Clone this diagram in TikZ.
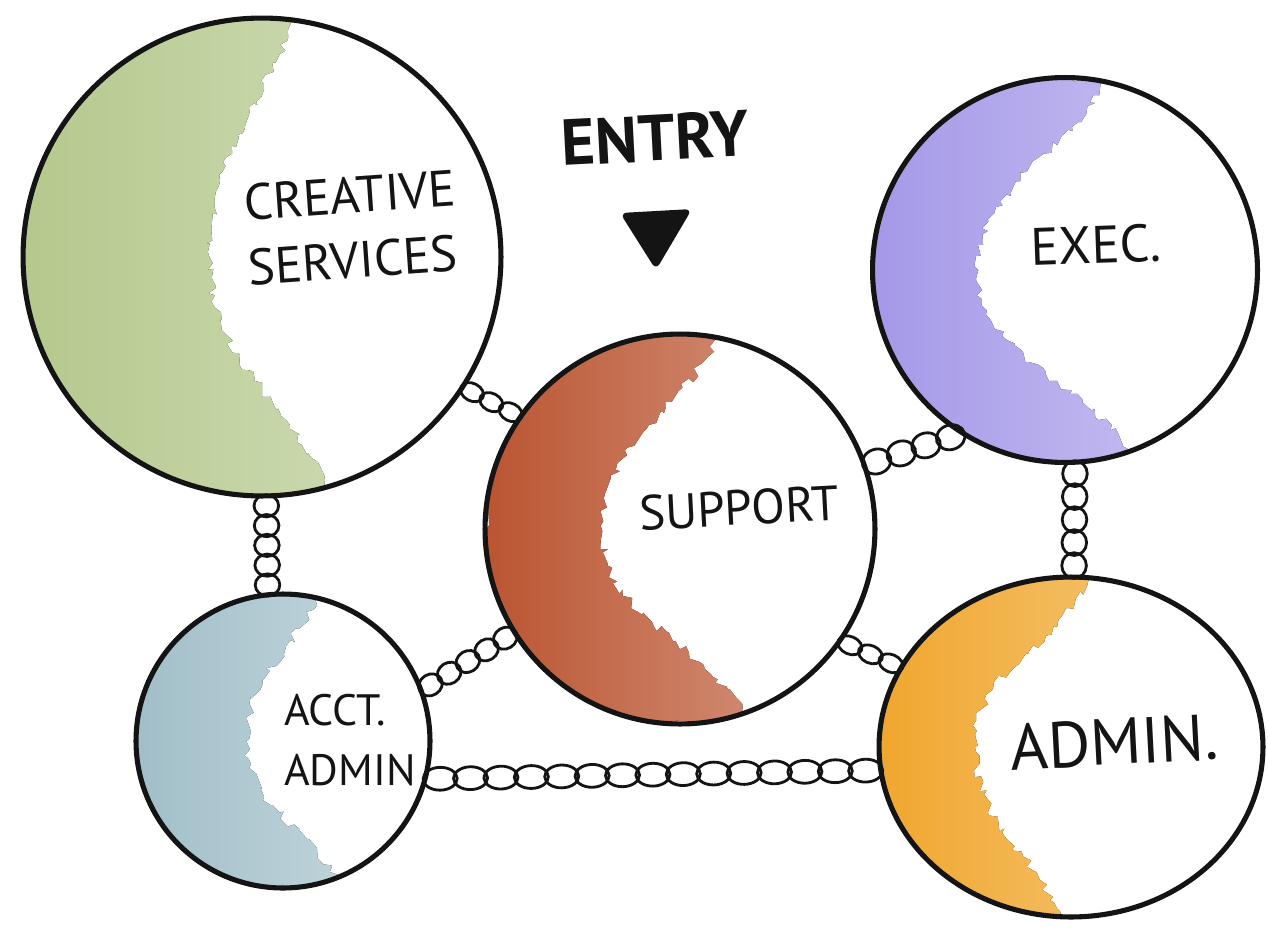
\documentclass[tikz,border=0pt]{standalone}
\usepackage{fontspec}
\newfontfamily\handfont{PT Sans}
\usetikzlibrary{shapes.geometric,decorations.pathmorphing,calc}

\definecolor{creGreen}{RGB}{180,200,140}
\definecolor{exeLilac}{RGB}{164,152,232}
\definecolor{supRust}{RGB}{186,84,48}
\definecolor{accBlue}{RGB}{160,190,200}
\definecolor{admOrange}{RGB}{240,166,45}
\definecolor{inkBlack}{RGB}{20,20,20}

%% a chain of #3 links from #1 to #2, links #4 high
\newcommand\drawChain[4]{%
  \foreach \k in {1,...,#3}{
    \draw[linkLine] let \p1=(#1), \p2=(#2), \n1={atan2(\y2-\y1,\x2-\x1)},
      \n2={0.56*veclen(\x2-\x1,\y2-\y1)/#3} in
      ($(\p1)!{(\k-0.5)/#3}!(\p2)$) ellipse [x radius=\n2,y radius=#4,rotate=\n1];
  }}

\begin{document}
\begin{tikzpicture}
[x=0.02cm,y=-0.02cm,%
  blob/.style n args={4}{circle,draw=inkBlack,line width=2.9pt,inner sep=0pt,outer sep=0pt,%
    path picture={\fill[decorate,decoration={random steps,segment length=3pt,amplitude=2.5pt},
      left color=#1,right color=#1!55!white]
      (path picture bounding box.north west) --
      ($(path picture bounding box.north)!#2!(path picture bounding box.north east)$)
      to[out=-115,in=90] ($(path picture bounding box.center)!#3!(path picture bounding box.west)$)
      to[out=-90,in=115] ($(path picture bounding box.south)!#4!(path picture bounding box.south east)$)
      -- (path picture bounding box.south west) -- cycle;}},%
  linkLine/.style={draw=inkBlack,line width=1.6pt},%
  handText/.style={font=\handfont\fontsize{28}{34}\selectfont,text=inkBlack,inner sep=0pt,align=left}]
\useasboundingbox[fill=white] (0,0) rectangle (1268,927);
%% the five groups
\node[blob={creGreen}{0.15}{0.22}{0.3},minimum size=9.56cm] (cre) at (262,257) {};
\node[blob={exeLilac}{0.22}{0.45}{0.35},minimum size=7.7cm] (exe) at (1065,270) {};
\node[blob={supRust}{0.2}{0.4}{0.35},minimum size=7.8cm] (sup) at (680,529) {};
\node[blob={accBlue}{0.25}{0.25}{0.4},minimum size=5.88cm] (acc) at (283,741) {};
\node[blob={admOrange}{0.1}{0.5}{-0.05},ellipse,minimum width=7.68cm,minimum height=6.8cm] (adm) at (1071,747) {};
%% labels
\node[handText,rotate=4,font=\handfont\fontsize{29}{37}\selectfont] (creLabel) at (352,228) {CREATIVE\\SERVICES};
\node[handText,rotate=2,font=\handfont\fontsize{30}{30}\selectfont] (exeLabel) at (1096,245) {EXEC.};
\node[handText,rotate=3] (supLabel) at (739,508) {SUPPORT};
\node[handText,font=\handfont\fontsize{25}{34}\selectfont] (accLabel) at (350,740) {ACCT.\\ADMIN};
\node[handText,rotate=3,font=\handfont\fontsize{37}{37}\selectfont] (admLabel) at (1114,742) {ADMIN.};
%% entry marker
\node[handText,rotate=3,font=\handfont\bfseries\fontsize{37}{37}\selectfont] (entry) at (655,138) {ENTRY};
\fill[inkBlack,rounded corners=4pt] (620,213) -- (692,209) -- (656,270) -- cycle;
%% chains between the groups
\drawChain{cre.-33}{sup.145}{3}{5pt}
\drawChain{sup.19}{exe.238}{4}{7pt}
\drawChain{exe.-87}{adm.89}{5}{7pt}
\drawChain{cre.-89}{acc.96}{5}{7pt}
\drawChain{acc.20}{sup.212}{5}{6pt}
\drawChain{sup.-35}{adm.155}{3}{5pt}
\drawChain{acc.-15}{adm.187}{15}{6.5pt}
\end{tikzpicture}
\end{document}
